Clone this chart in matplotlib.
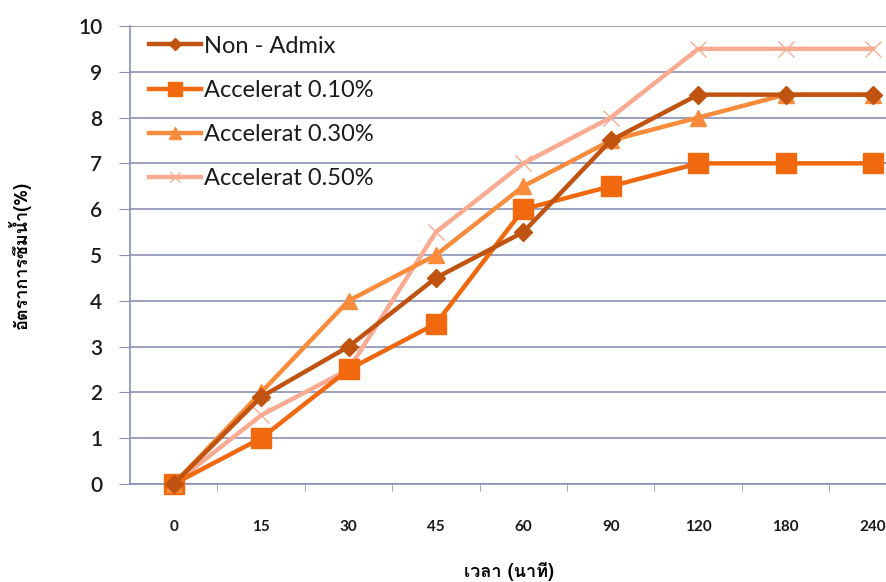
import matplotlib
matplotlib.use('Agg')
import matplotlib.pyplot as plt
from matplotlib import font_manager
from matplotlib.ft2font import FT2Font
import numpy as np

# time (minutes) categories and water absorption (%)
times = ['0', '15', '30', '45', '60', '90', '120', '180', '240']
non_admix = [0, 1.9, 3, 4.5, 5.5, 7.5, 8.5, 8.5, 8.5]
accel_010 = [0, 1, 2.5, 3.5, 6, 6.5, 7, 7, 7]
accel_030 = [0, 2, 4, 5, 6.5, 7.5, 8, 8.5, 8.5]
accel_050 = [0, 1.5, 2.5, 5.5, 7, 8, 9.5, 9.5, 9.5]
y_ticks = [0, 1, 2, 3, 4, 5, 6, 7, 8, 9, 10]

# pick an installed family that can draw Thai
thai_family = 'DejaVu Sans'
for f in font_manager.fontManager.ttflist:
    try:
        ft = FT2Font(f.fname)
        if ord('อ') in ft.get_charmap():
            thai_family = f.name
            break
    except Exception:
        pass

fig = plt.figure(figsize=(8.87, 5.82), dpi=100)
ax = fig.add_axes([0.1466, 0.1684, 0.8534, 0.787])

x = np.arange(len(times))
grid_c = '#8a90b4'

ax.plot(x, non_admix, color='#c0530f', lw=3.2, marker='D', ms=9, clip_on=False, zorder=5, label='Non - Admix')
ax.plot(x, accel_010, color='#f0690f', lw=3.2, marker='s', ms=14, clip_on=False, zorder=4, label='Accelerat 0.10%')
ax.plot(x, accel_030, color='#f98c3c', lw=3.2, marker='^', ms=12, clip_on=False, zorder=4, label='Accelerat 0.30%')
ax.plot(x, accel_050, color='#f9ab92', lw=3.2, marker='x', ms=11, mew=1, clip_on=False, zorder=3, label='Accelerat 0.50%')

ax.set_xlim(-0.5, 8.16)
ax.set_ylim(0, 10)
ax.set_yticks(y_ticks)
ax.set_yticklabels([str(v) for v in y_ticks], fontsize=15, fontweight='semibold', family='Lato', color='#1a1a1a')
ax.set_xticks(x)
ax.set_xticklabels(times, fontsize=11, fontweight='bold', family='Lato', color='#1a1a1a')
ax.set_xticks(x[:-1] + 0.5, minor=True)
ax.tick_params(axis='x', which='major', length=0, pad=26)
ax.tick_params(axis='x', which='minor', length=5, color=grid_c)
ax.tick_params(axis='y', length=8, color=grid_c, pad=12)
ax.yaxis.grid(True, color=grid_c, lw=1.2)
ax.set_axisbelow(True)

for s in ['top', 'right']:
    ax.spines[s].set_visible(False)
for s in ['left', 'bottom']:
    ax.spines[s].set_color(grid_c)
    ax.spines[s].set_linewidth(1.2)

leg = ax.legend(loc='upper left', bbox_to_anchor=(0.0, 1.021), frameon=False,
                prop={'family': 'Lato', 'size': 17}, handlelength=2.2,
                handletextpad=0.1, labelspacing=0.98, borderaxespad=0.42,
                markerscale=0.7)
for t in leg.get_texts():
    t.set_color('#1a1a1a')

ax.set_xlabel('เวลา (นาที)', fontsize=13, fontweight='bold', family=[thai_family, 'DejaVu Sans'], labelpad=20)
ax.set_ylabel('อัตราการซึมน้ำ(%)', fontsize=13, fontweight='bold', family=[thai_family, 'DejaVu Sans'], labelpad=34)

fig.savefig('out.png', dpi=100)
